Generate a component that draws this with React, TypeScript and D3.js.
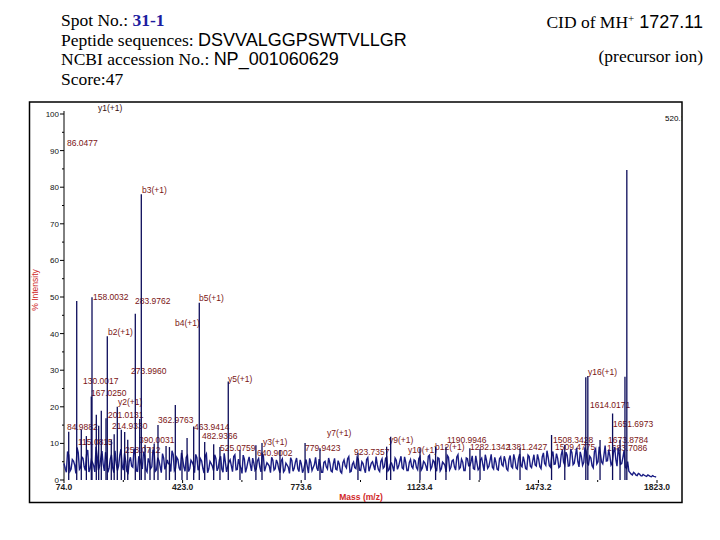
import React from "react";
import * as d3 from "d3";

// ---- data ----
const xTickValues = [74.0, 423.8, 773.6, 1123.4, 1473.2, 1823.0];
const xTickLabels = ["74.0", "423.0", "773.6", "1123.4", "1473.2", "1823.0"];
const yTickValues = [0, 10, 20, 30, 40, 50, 60, 70, 80, 90, 100];

// dense baseline noise: two sample sets, A at 74 + 7i, B at 77.5 + 7i
const noiseStartA = 74;
const noiseStartB = 77.5;
const noiseStep = 7;
const noiseValuesA = [
  4.5,2.1,6.8,3.0,5.2,1.8,7.5,3.4,5.9,2.6,8.2,3.1,4.8,2.2,6.4,3.7,7.9,2.5,5.5,3.3,
  6.9,2.0,4.6,3.8,8.4,2.7,5.1,1.9,6.2,3.5,7.1,2.4,5.7,3.0,6.6,2.2,4.9,3.6,7.4,2.8,
  5.3,2.0,6.0,3.9,4.4,2.3,7.0,3.2,5.6,2.6,
  5.8,2.4,6.7,3.1,4.9,2.0,6.1,3.5,5.2,1.9,7.2,3.0,4.5,2.6,5.9,3.3,6.5,2.1,4.8,3.7,
  5.5,2.3,6.9,2.9,4.2,1.8,5.7,3.4,6.3,2.5,4.6,3.0,5.9,2.2,6.6,3.6,4.3,2.0,5.4,3.1,
  4.6,2.0,5.8,2.7,4.1,1.8,5.3,3.2,6.0,2.3,4.4,2.9,5.6,1.9,4.8,3.4,6.2,2.5,4.0,2.1,
  5.1,3.0,4.7,2.2,5.9,2.8,4.3,1.9,5.5,3.3,6.4,2.4,4.9,3.1,5.7,2.6,4.5,2.0,6.1,3.5,
  5.0,2.7,4.2,2.3,5.8,3.6,6.3,2.9,4.6,2.4,5.4,3.8,6.5,3.0,4.8,2.6,5.6,3.2,
  5.2,2.8,6.4,3.3,4.7,2.5,6.8,3.6,5.0,2.4,5.9,3.1,4.5,2.2,6.2,3.5,5.5,2.7,6.9,3.4,
  4.9,2.6,5.8,3.9,6.6,2.9,4.6,3.2,6.0,2.5,5.4,3.7,7.0,3.0,4.8,2.7,6.3,3.8,5.2,2.6,
  6.7,3.3,5.6,3.0,7.1,3.6,5.0,2.9,6.4,
  3.4,6.9,3.8,5.6,3.1,7.4,4.0,6.2,3.5,7.8,4.4,5.9,3.7,8.2,4.1,6.8,3.9,7.5,4.6,8.8,
  3.6,6.4,4.8,7.9,4.2,6.0,3.3,8.5,5.0,7.2,4.4,9.4,5.3,6.6,4.7,9.0,3.8,7.0,4.5,8.1,3.2,
  2.4,1.6,2.1,1.3,1.8,1.2,1.5,1.1,1.4,1.0,1.2,0.9,
];
const noiseValuesB = [
  3.2,7.8,2.4,5.6,4.1,8.9,2.9,6.3,3.6,7.0,2.2,5.4,3.9,9.1,2.7,6.0,4.3,7.6,2.1,5.8,
  3.4,8.0,2.6,6.7,4.0,7.3,2.3,5.1,3.8,8.6,2.5,6.5,4.2,7.7,2.8,5.9,3.1,8.3,2.4,6.1,
  3.7,7.2,2.9,5.5,4.4,8.0,2.6,6.2,3.3,7.4,
  3.6,6.2,2.3,5.4,4.0,7.0,2.7,5.8,3.2,6.6,2.0,5.1,3.8,6.9,2.5,5.6,3.0,7.3,2.2,4.9,
  3.9,6.4,2.8,5.7,3.3,6.8,2.1,5.0,4.1,6.0,2.6,5.3,3.5,7.1,2.4,4.7,3.8,6.2,2.7,5.5,
  3.0,5.2,2.2,4.6,3.5,6.1,2.4,4.9,3.1,5.5,2.0,4.4,3.7,5.9,2.6,4.2,3.3,5.7,2.1,4.8,
  3.6,6.0,2.5,4.5,3.0,5.3,2.3,4.7,3.8,5.8,2.2,4.3,3.4,6.2,2.7,5.0,3.1,5.6,2.4,4.6,
  3.9,6.4,2.8,5.1,3.2,5.9,2.5,4.4,3.6,6.0,2.9,5.2,3.3,6.3,2.6,4.8,3.7,5.5,
  3.4,5.9,2.7,5.1,3.8,6.5,2.9,5.4,3.2,6.1,2.5,4.9,4.0,6.7,2.8,5.2,3.6,6.3,3.0,5.7,
  2.6,6.0,3.9,5.0,3.1,6.6,2.8,5.5,4.1,6.9,3.2,5.3,3.5,6.2,2.9,5.8,4.2,6.5,3.0,5.6,
  3.7,7.0,3.3,5.9,4.0,6.4,3.1,6.8,3.8,
  5.2,4.1,7.0,3.6,6.3,4.5,8.0,3.9,6.6,4.3,7.2,3.4,6.9,4.8,7.6,3.8,8.4,4.2,6.7,5.0,
  7.7,4.0,8.9,4.6,6.5,3.9,7.8,4.4,9.1,4.9,6.8,5.2,8.3,4.1,7.5,5.6,8.7,4.3,6.2,3.5,5.0,
  2.0,1.4,1.8,1.2,1.6,1.1,1.3,1.0,1.2,0.9,1.0,0.8,
];

// fragment peaks (m/z, % intensity)
const peakMz = [
  87.9, 111.5, 125, 140, 154.5, 156.6, 169.3, 176.3, 184, 197.9, 201.7, 213.5, 222,
  231.2, 243, 253, 262, 284.3, 297.3, 302, 313, 327.6, 340, 351.2, 375, 385, 402.3,
  422, 437, 456.5, 473, 489, 515.5, 534, 558.5, 593, 640, 658, 711, 785, 829, 941,
  1025.6, 1037.5, 1124, 1170, 1200.6, 1271, 1301, 1419, 1512, 1551, 1613, 1619,
  1655, 1692, 1714, 1728.5, 1734,
];
const peakIntensity = [
  13.2, 48.9, 13.7, 12.0, 22.8, 49.9, 17.8, 14.8, 18.9, 16.9, 39.3, 10.9, 12.5,
  20.0, 13.7, 13.1, 11.0, 45.4, 16.7, 78.1, 9.6, 8.7, 10.0, 15.0, 9.3, 9.0, 20.5,
  8.2, 11.5, 14.6, 48.4, 10.4, 9.8, 9.0, 26.9, 8.2, 9.5, 10.1, 8.2, 10.1, 8.7, 7.4,
  9.1, 11.8, 8.7, 9.1, 9.1, 8.7, 8.5, 8.7, 12.3, 9.6, 28.1, 28.4,
  10.9, 18.2, 10.9, 28.2, 84.7,
];

// peak annotations: text, anchor m/z (left edge), anchor intensity (baseline)
const labelTexts = [
  "y1(+1)", "86.0477", "b3(+1)", "158.0032", "283.9762", "b5(+1)", "b4(+1)", "b2(+1)",
  "273.9960", "130.0017", "y5(+1)", "167.0250", "y2(+1)", "201.0131", "362.9763",
  "463.9414", "84.9882", "214.9330", "390.0031", "482.9366", "115.0815", "525.0759",
  "258.0712", "y3(+1)", "640.9002", "y7(+1)", "779.9423", "923.7357", "y9(+1)",
  "y10(+1)", "1190.9946", "b12(+1)", "1282.1342", "1381.2427", "1508.3428",
  "1509.4775", "y16(+1)", "1614.0171", "1651.6973", "1673.8784", "1683.7086",
];
const labelMz = [
  174.3, 82.8, 304, 159.5, 283.4, 472.1, 401.4, 203.8, 271.6, 130, 557.7, 153.6,
  233.3, 203.8, 351.2, 457.4, 82.8, 215.6, 295.2, 481, 115.3, 534, 254, 661, 643.2,
  849.7, 784.8, 929.3, 1032.5, 1088.6, 1203.6, 1168.2, 1271.4, 1380.5, 1516.2,
  1522.1, 1619.5, 1625.4, 1693.2, 1678.5, 1675.5,
];
const labelIntensity = [
  100.8, 91.3, 78.4, 49.2, 48.1, 48.9, 42.1, 39.6, 29.0, 26.2, 26.8, 23.0, 20.5,
  16.9, 15.6, 13.7, 13.7, 13.9, 10.1, 11.2, 9.6, 7.9, 7.4, 9.6, 6.6, 12.0, 7.9, 6.8,
  10.1, 7.4, 10.1, 8.2, 8.2, 8.2, 10.1, 8.2, 28.7, 19.7, 14.5, 10.1, 7.9,
];

const headerLeft = [
  { serif: "Spot No.: ", rest: "31-1", kind: "blue" },
  { serif: "Peptide sequences: ", rest: "DSVVALGGPSWTVLLGR", kind: "sans" },
  { serif: "NCBI accession No.: ", rest: "NP_001060629", kind: "sans" },
  { serif: "Score:47", rest: "", kind: "none" },
];

const SERIF = "'Liberation Serif', 'Times New Roman', serif";
const SANS = "'Liberation Sans', Arial, sans-serif";

export default function App() {
  const x = d3.scaleLinear().domain([74, 1823]).range([64, 657]);
  const y = d3.scaleLinear().domain([0, 100]).range([480, 114]);

  const noisePts: [number, number][] = [];
  noiseValuesA.forEach((v, i) => {
    noisePts.push([noiseStartA + i * noiseStep, v]);
    if (i < noiseValuesB.length) noisePts.push([noiseStartB + i * noiseStep, noiseValuesB[i]]);
  });
  const line = d3
    .line<[number, number]>()
    .x((d) => x(d[0]))
    .y((d) => y(d[1]));

  const minorX = xTickValues.slice(1).map((v, i) => (v + xTickValues[i]) / 2);
  const minorY = d3.range(5, 100, 10);

  return (
    <svg
      width={720}
      height={540}
      viewBox="0 0 720 540"
      style={{ position: "absolute", left: 0, top: 0, background: "#fff" }}
    >
      <rect x={0} y={0} width={720} height={540} fill="#fff" />
      {/* header */}
      {headerLeft.map((h, i) => (
        <text key={i} x={61} y={26 + i * 19.5} fontSize={17.5} fontFamily={SERIF} fill="#000">
          <tspan>{h.serif}</tspan>
          {h.kind === "blue" && (
            <tspan fill="#1c1ca0" fontWeight="bold">{h.rest}</tspan>
          )}
          {h.kind === "sans" && <tspan fontFamily={SANS} fontSize={18}>{h.rest}</tspan>}
        </text>
      ))}
      <text x={703} y={28} fontSize={17.5} fontFamily={SERIF} textAnchor="end" fill="#000">
        <tspan>CID of MH</tspan>
        <tspan fontSize={11} dy={-6}>+</tspan>
        <tspan fontFamily={SANS} fontSize={18} dy={6}> 1727.11</tspan>
      </text>
      <text x={703} y={62} fontSize={17.5} fontFamily={SERIF} textAnchor="end" fill="#000">
        (precursor ion)
      </text>

      {/* frame */}
      <rect x={29.5} y={102} width={652.5} height={400.5} fill="none" stroke="#000" strokeWidth={1.5} />
      <clipPath id="frameClip">
        <rect x={30} y={102.5} width={651.5} height={399.5} />
      </clipPath>

      <g clipPath="url(#frameClip)">
        <text x={665} y={121} fontSize={8} fontFamily={SANS} fill="#000">520.1</text>

        {/* y axis */}
        <line x1={64} x2={64} y1={y(100) - 3} y2={y(0)} stroke="#000" strokeWidth={1} />
        {yTickValues.map((t) => (
          <g key={"yt" + t}>
            <line x1={60} x2={64} y1={y(t)} y2={y(t)} stroke="#000" strokeWidth={1} />
            <text
              x={59}
              y={y(t) + 3}
              fontSize={8}
              fontFamily={SANS}
              textAnchor="end"
              fill="#111"
            >
              {t}
            </text>
          </g>
        ))}
        {minorY.map((t) => (
          <line key={"ym" + t} x1={62} x2={64} y1={y(t)} y2={y(t)} stroke="#000" strokeWidth={1} />
        ))}

        {/* x axis ticks */}
        {xTickValues.map((t, i) => (
          <g key={"xt" + i}>
            <line x1={x(t)} x2={x(t)} y1={y(0)} y2={y(0) + 3} stroke="#000" strokeWidth={1} />
            <text
              x={x(t)}
              y={490}
              fontSize={8.5}
              fontFamily={SANS}
              fontWeight="bold"
              textAnchor="middle"
              fill="#222"
            >
              {xTickLabels[i]}
            </text>
          </g>
        ))}
        {minorX.map((t, i) => (
          <line key={"xm" + i} x1={x(t)} x2={x(t)} y1={y(0)} y2={y(0) + 2} stroke="#000" strokeWidth={1} />
        ))}

        {/* axis titles */}
        <text
          x={361}
          y={500}
          fontSize={8.5}
          fontFamily={SANS}
          fontWeight="bold"
          textAnchor="middle"
          fill="#d02828"
        >
          Mass (m/z)
        </text>
        <text
          transform="translate(38,290) rotate(-90)"
          fontSize={8.5}
          fontFamily={SANS}
          textAnchor="middle"
          fill="#d02828"
        >
          % Intensity
        </text>

        {/* annotations */}
        {labelTexts.map((t, i) => (
          <text
            key={"lb" + i}
            x={x(labelMz[i])}
            y={y(labelIntensity[i])}
            fontSize={8.5}
            fontFamily={SANS}
            fill={t.startsWith("y1(") ? "#3a1010" : "#7a1414"}
          >
            {t}
          </text>
        ))}

        {/* noise trace */}
        <path d={line(noisePts) || ""} fill="none" stroke="#1a1d84" strokeWidth={1.4} strokeLinejoin="miter" />

        {/* peaks */}
        {peakMz.map((m, i) => (
          <line
            key={"pk" + i}
            x1={x(m)}
            x2={x(m)}
            y1={y(0)}
            y2={y(peakIntensity[i])}
            stroke="#0c0c5a"
            strokeWidth={1.3}
          />
        ))}
      </g>
    </svg>
  );
}
